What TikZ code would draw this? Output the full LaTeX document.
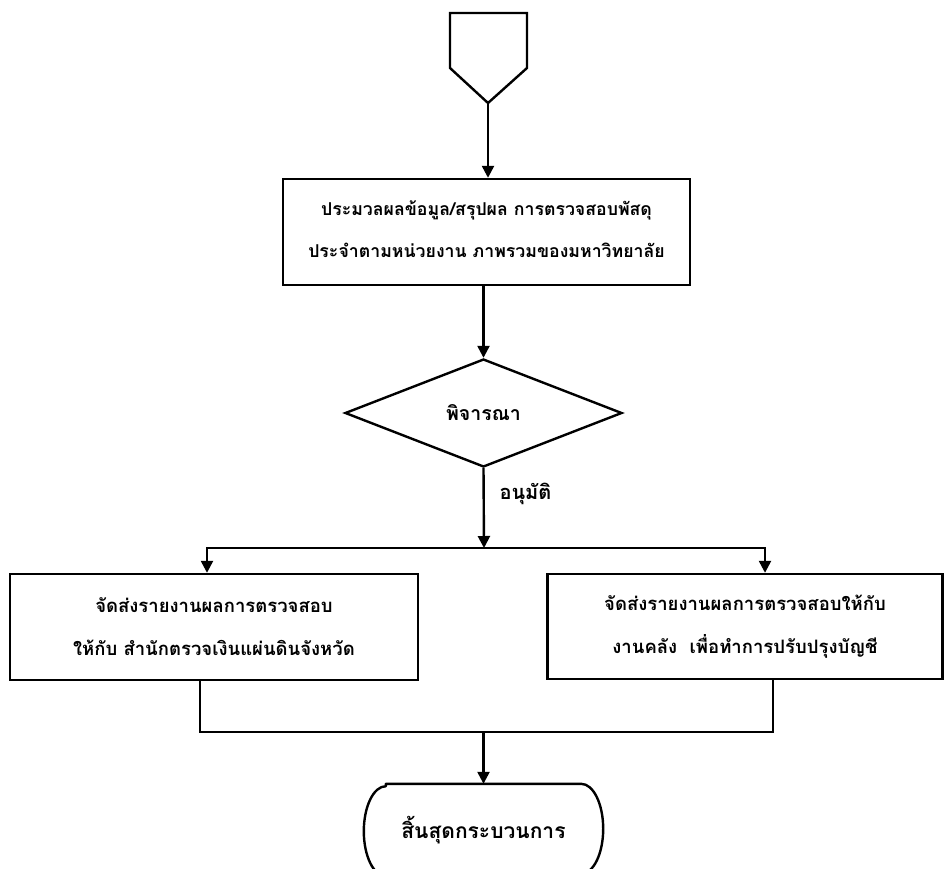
\documentclass[tikz,border=0pt]{standalone}
\usepackage{fontspec}
\newfontfamily\thai[Script=Thai]{Loma}
\usetikzlibrary{shapes.geometric,arrows.meta}
\begin{document}
\begin{tikzpicture}[x=1pt,y=-1pt,
  line width=2.4pt,
  every node/.style={font=\thai\bfseries\fontsize{17.7}{42}\selectfont},
  procbox/.style={draw,rectangle,inner sep=0pt,align=center},
  decision/.style={draw,diamond,inner sep=0pt,aspect=2.56,minimum width=277pt,minimum height=108pt},
  flow/.style={-{Triangle[length=12pt,width=12pt]}},
  link/.style={line cap=rect}]
\path[use as bounding box] (0,0) rectangle (944,868);

% off-page connector at the top
\draw[line join=miter] (450,13) -- (527,13) -- (527,68) -- (488,103) -- (450,68) -- cycle;
\coordinate (start) at (488,103);

\node[procbox,minimum width=407pt,minimum height=106pt,text depth=6pt] (summary) at (486.5,232)
  {ประมวลผลข้อมูล/สรุปผล การตรวจสอบพัสดุ\\ประจำตามหน่วยงาน ภาพรวมของมหาวิทยาลัย};

\node[decision,font=\thai\bfseries\fontsize{19.5}{24}\selectfont] (consider) at (483.5,413) {พิจารณา};

\node[procbox,minimum width=408pt,minimum height=106pt,font=\thai\bfseries\fontsize{18.5}{43}\selectfont] (left) at (214,627)
  {จัดส่งรายงานผลการตรวจสอบ\\ให้กับ สำนักตรวจเงินแผ่นดินจังหวัด};
\node[procbox,minimum width=395pt,minimum height=105pt,font=\thai\bfseries\fontsize{18.5}{43}\selectfont] (right) at (745,626.5)
  {จัดส่งรายงานผลการตรวจสอบให้กับ\\งานคลัง~~เพื่อทำการปรับปรุงบัญชี};

% terminator: a bar with elliptical ends (radii given in pt, so angles are page angles)
\node[minimum width=237pt,minimum height=90pt,inner sep=0pt,font=\thai\bfseries\fontsize{21}{26}\selectfont] (end) at (483.5,830) {สิ้นสุดกระบวนการ};
\draw[line join=round] ([xshift=22pt]end.north west) -- ([xshift=-22pt]end.north east)
  arc[start angle=90,end angle=-90,x radius=22pt,y radius=45pt]
  -- ([xshift=22pt]end.south west)
  arc[start angle=270,end angle=90,x radius=22pt,y radius=45pt] -- cycle;

% connectors
\draw[flow] (start) -- (summary.north -| start);
\draw[flow] (summary.south -| consider) -- (consider.north);

\coordinate (split) at (484,548);
\draw[flow] (consider.south) -- (split);
\node[anchor=west,font=\thai\bfseries\fontsize{20}{24}\selectfont] (approved) at (495,494) {อนุมัติ};

\coordinate (splitL) at (207,548);
\coordinate (splitR) at (765,548);
\draw[link] (splitL) -- (splitR);
\draw[flow] (splitL) -- (left.north -| splitL);
\draw[flow] (splitR) -- (right.north -| splitR);

\coordinate (joinL) at (200,732);
\coordinate (joinR) at (773,732);
\draw[link] (left.south -| joinL) -- (joinL) -- (joinR) -- (right.south -| joinR);
\draw[flow] (joinL -| end) -- (end.north);
\end{tikzpicture}
\end{document}
